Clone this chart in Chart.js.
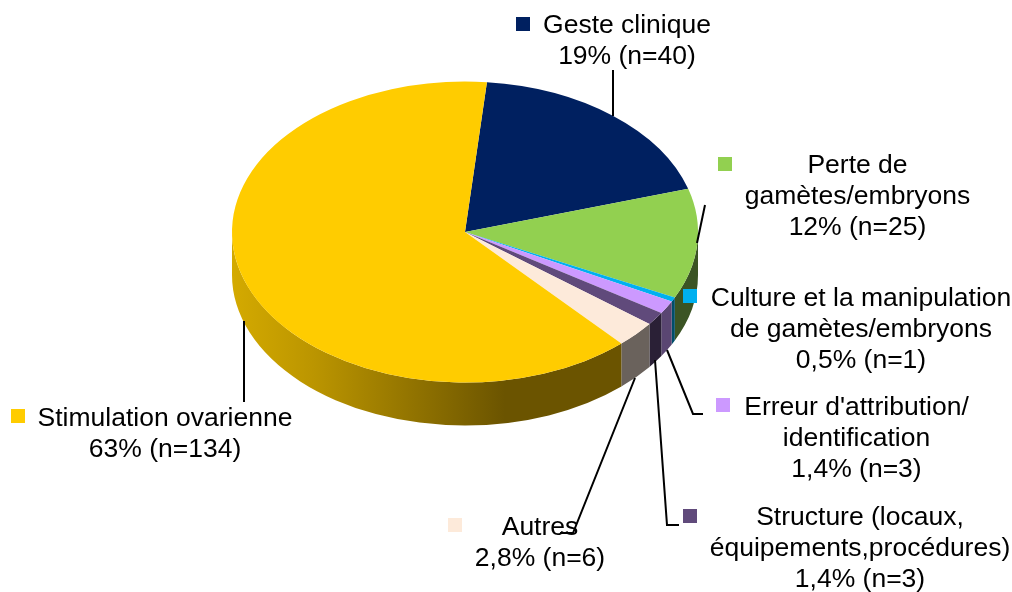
<!DOCTYPE html>
<html>
<head>
<meta charset="utf-8">
<script src="https://cdn.jsdelivr.net/npm/chart.js@4"></script>
<style>
    body { margin: 0; background: #fff; }
    canvas { display: block; }
</style>
</head>
<body>
<canvas id="pie-chart" width="1012" height="592"></canvas>
<script>
// Data
const categories = [
    ['Geste clinique'],
    ['Perte de', 'gamètes/embryons'],
    ['Culture et la manipulation', 'de gamètes/embryons'],
    ["Erreur d'attribution/", 'identification'],
    ['Structure (locaux,', 'équipements,procédures)'],
    ['Autres'],
    ['Stimulation ovarienne']
];
const counts = [40, 25, 1, 3, 3, 6, 134];
const percents = ['19%', '12%', '0,5%', '1,4%', '1,4%', '2,8%', '63%'];

// Styles
const colors = ['#002060', '#92D050', '#00B0F0', '#CC99FF', '#604A7B', '#FDEADA', '#FFCC00'];
const wallColors = ['#001030', '#3B5424', '#004E6A', '#5A4672', '#2A2036', '#6A625C', null];

// Label layout: text centre x, first line y, marker x/y
const labelLayout = [
    { x: 627, y: 26, mx: 516, my: 17 },
    { x: 857.5, y: 166, mx: 718, my: 157 },
    { x: 861, y: 299, mx: 683, my: 289 },
    { x: 856.5, y: 408, mx: 716, my: 398 },
    { x: 860, y: 518, mx: 683, my: 509 },
    { x: 540, y: 528, mx: 448, my: 518 },
    { x: 165, y: 419, mx: 11, my: 409 }
];
const leaderLines = [
    [[613, 70], [613, 116]],
    [[705, 205], [697, 243]],
    [[667, 350], [693, 414], [703, 414]],
    [[655, 360], [667, 525], [679, 525]],
    [[635, 378], [573, 533], [560, 533]],
    [[244, 321], [244, 402]]
];

const centerY = 232;
const squash = 150.5 / 233;
const depth = 43;

// Flattens the pie to an ellipse and draws the side wall under it
const tiltPlugin = {
    id: 'tilt',
    beforeDatasetsDraw(chart) {
        const ctx = chart.ctx;
        const arcs = chart.getDatasetMeta(0).data;
        arcs.forEach((arc, i) => {
            const start = Math.max(arc.startAngle, 0);
            const end = Math.min(arc.endAngle, Math.PI);
            if (start >= end) return;
            const rx = arc.outerRadius;
            const ry = rx * squash;
            ctx.beginPath();
            ctx.ellipse(arc.x, centerY, rx, ry, 0, start, end);
            ctx.ellipse(arc.x, centerY + depth, rx, ry, 0, end, start, true);
            ctx.closePath();
            if (wallColors[i]) {
                ctx.fillStyle = wallColors[i];
            } else {
                const grad = ctx.createLinearGradient(232, 0, 505, 0);
                grad.addColorStop(0, '#D4AA00');
                grad.addColorStop(0.3, '#BB9500');
                grad.addColorStop(1, '#6B5400');
                ctx.fillStyle = grad;
            }
            ctx.fill();
        });
        ctx.save();
        ctx.translate(0, centerY);
        ctx.scale(1, squash);
        ctx.translate(0, -arcs[0].y);
    },
    afterDatasetsDraw(chart) {
        chart.ctx.restore();
    },
    afterDraw(chart) {
        const ctx = chart.ctx;
        ctx.save();
        ctx.strokeStyle = '#000';
        ctx.lineWidth = 2;
        leaderLines.forEach(line => {
            ctx.beginPath();
            line.forEach((p, i) => i ? ctx.lineTo(p[0], p[1]) : ctx.moveTo(p[0], p[1]));
            ctx.stroke();
        });
        ctx.font = '26.5px "Liberation Sans"';
        ctx.textAlign = 'center';
        ctx.textBaseline = 'middle';
        categories.forEach((lines, i) => {
            const pos = labelLayout[i];
            ctx.fillStyle = colors[i];
            ctx.fillRect(pos.mx, pos.my, 14, 14);
            ctx.fillStyle = '#000';
            const text = lines.concat(percents[i] + ' (n=' + counts[i] + ')');
            text.forEach((t, j) => ctx.fillText(t, pos.x, pos.y + j * 31));
        });
        ctx.restore();
    }
};

new Chart(document.getElementById('pie-chart').getContext('2d'), {
    type: 'pie',
    data: {
        labels: categories.map(c => c.join(' ')),
        datasets: [{
            data: counts,
            backgroundColor: colors,
            borderWidth: 0,
            radius: 233,
            clip: false
        }]
    },
    options: {
        responsive: false,
        animation: false,
        rotation: 5.4,
        layout: { padding: { right: 82 } },
        plugins: {
            legend: { display: false },
            tooltip: { enabled: false }
        }
    },
    plugins: [tiltPlugin]
});
</script>
</body>
</html>
